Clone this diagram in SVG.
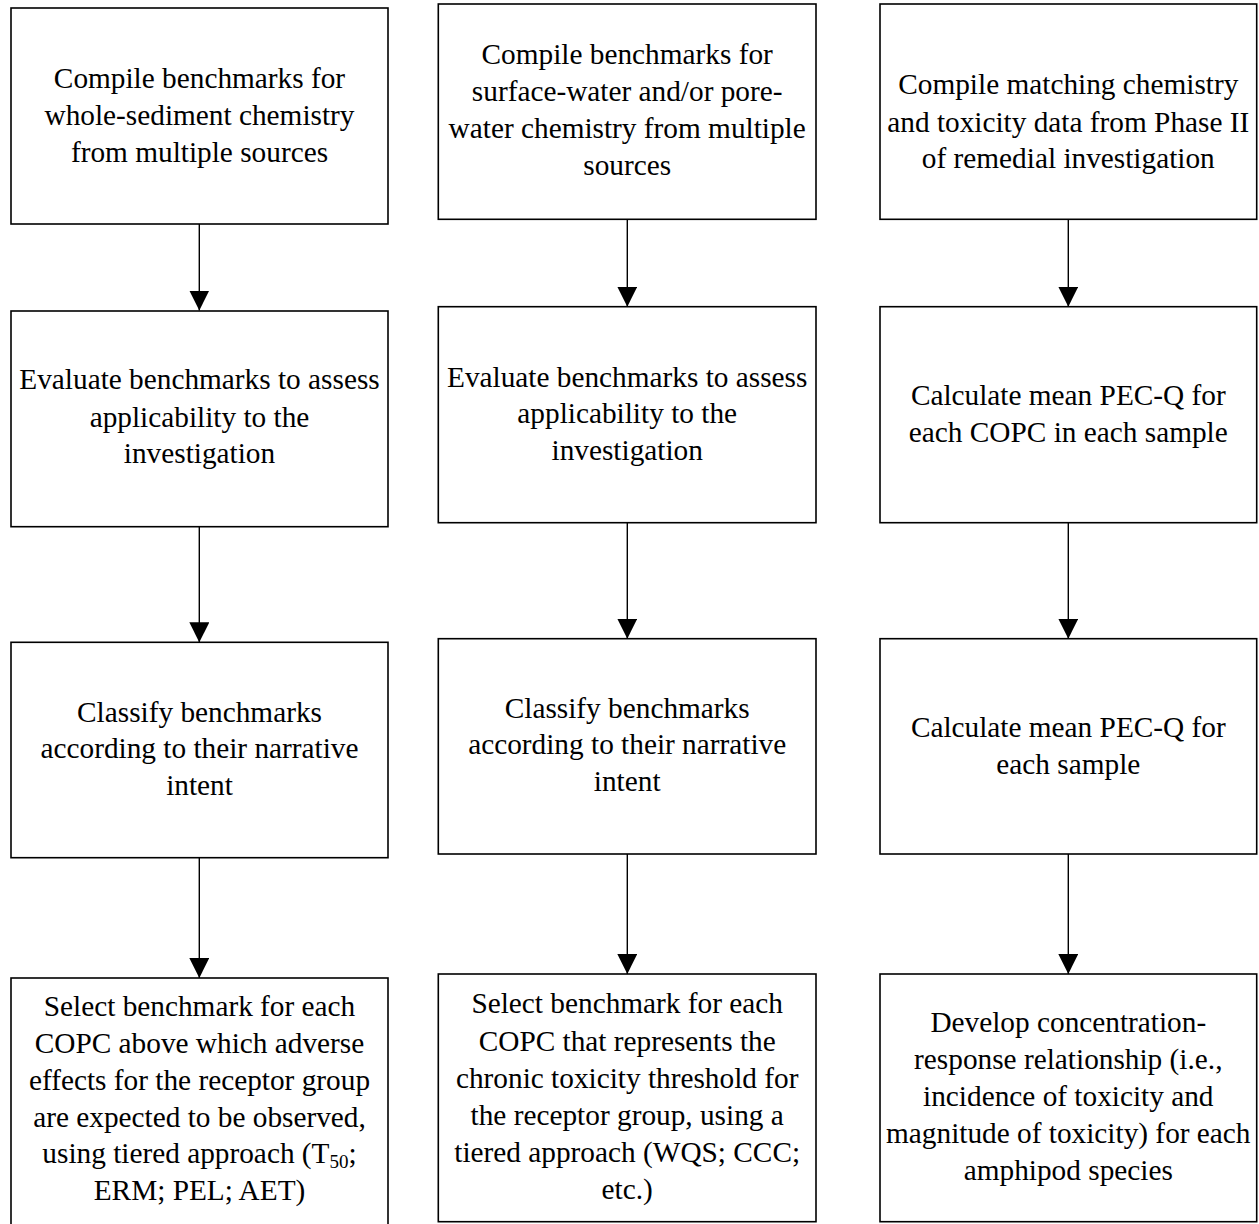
<svg xmlns="http://www.w3.org/2000/svg" width="1259" height="1224" viewBox="0 0 1259 1224">
<style>
.box{fill:#fff;stroke:#000;stroke-width:1.6}
.t{font-family:"Liberation Serif","Times New Roman",serif;font-size:29.3px;fill:#000;text-anchor:middle}
.c{stroke:#000;stroke-width:1.4;fill:none}
</style>
<defs>
<marker id="ah" viewBox="0 0 20 20" refX="20" refY="10" markerWidth="20" markerHeight="20" markerUnits="userSpaceOnUse" orient="auto">
<path d="M0,0 L20,10 L0,20 Z" fill="#000"/>
</marker>
</defs>
<rect width="1259" height="1224" fill="#fff"/>
<g id="connectors">
<line class="c" x1="199.3" y1="224" x2="199.3" y2="310.5" marker-end="url(#ah)"/>
<line class="c" x1="199.3" y1="526.7" x2="199.3" y2="642.3" marker-end="url(#ah)"/>
<line class="c" x1="199.3" y1="857.7" x2="199.3" y2="978" marker-end="url(#ah)"/>
<line class="c" x1="627.3" y1="219.3" x2="627.3" y2="306.7" marker-end="url(#ah)"/>
<line class="c" x1="627.3" y1="522.7" x2="627.3" y2="638.7" marker-end="url(#ah)"/>
<line class="c" x1="627.3" y1="854" x2="627.3" y2="974" marker-end="url(#ah)"/>
<line class="c" x1="1068.3" y1="219.3" x2="1068.3" y2="306.7" marker-end="url(#ah)"/>
<line class="c" x1="1068.3" y1="522.7" x2="1068.3" y2="638.7" marker-end="url(#ah)"/>
<line class="c" x1="1068.3" y1="854" x2="1068.3" y2="974" marker-end="url(#ah)"/>
</g>
<g id="n1a">
<rect class="box" x="11" y="8" width="377" height="216"/>
<text class="t" x="199.5" y="88.3">Compile benchmarks for</text>
<text class="t" x="199.5" y="125">whole-sediment chemistry</text>
<text class="t" x="199.5" y="161.7">from multiple sources</text>
</g>
<g id="n1b">
<rect class="box" x="11" y="311" width="377" height="215.7"/>
<text class="t" x="199.5" y="389.3">Evaluate benchmarks to assess</text>
<text class="t" x="199.5" y="426.7">applicability to the</text>
<text class="t" x="199.5" y="463.3">investigation</text>
</g>
<g id="n1c">
<rect class="box" x="11" y="642.3" width="377" height="215.4"/>
<text class="t" x="199.5" y="721.7">Classify benchmarks</text>
<text class="t" x="199.5" y="758.3">according to their narrative</text>
<text class="t" x="199.5" y="795">intent</text>
</g>
<g id="n1d">
<rect class="box" x="11" y="978" width="377" height="250"/>
<text class="t" x="199.5" y="1016">Select benchmark for each</text>
<text class="t" x="199.5" y="1053.3">COPC above which adverse</text>
<text class="t" x="199.5" y="1090">effects for the receptor group</text>
<text class="t" x="199.5" y="1126.7">are expected to be observed,</text>
<text class="t" x="199.5" y="1163.3">using tiered approach (T<tspan font-size="19" dy="5">50</tspan><tspan dy="-5">;</tspan></text>
<text class="t" x="199.5" y="1200">ERM; PEL; AET)</text>
</g>
<g id="n2a">
<rect class="box" x="438.3" y="4" width="377.7" height="215.3"/>
<text class="t" x="627.2" y="64">Compile benchmarks for</text>
<text class="t" x="627.2" y="100.7">surface-water and/or pore-</text>
<text class="t" x="627.2" y="137.7">water chemistry from multiple</text>
<text class="t" x="627.2" y="175">sources</text>
</g>
<g id="n2b">
<rect class="box" x="438.3" y="306.7" width="377.7" height="216"/>
<text class="t" x="627.2" y="386.7">Evaluate benchmarks to assess</text>
<text class="t" x="627.2" y="423.3">applicability to the</text>
<text class="t" x="627.2" y="460">investigation</text>
</g>
<g id="n2c">
<rect class="box" x="438.3" y="638.7" width="377.7" height="215.3"/>
<text class="t" x="627.2" y="717.7">Classify benchmarks</text>
<text class="t" x="627.2" y="754.3">according to their narrative</text>
<text class="t" x="627.2" y="791">intent</text>
</g>
<g id="n2d">
<rect class="box" x="438.3" y="974" width="377.7" height="247.7"/>
<text class="t" x="627.2" y="1013.3">Select benchmark for each</text>
<text class="t" x="627.2" y="1050.7">COPC that represents the</text>
<text class="t" x="627.2" y="1087.7">chronic toxicity threshold for</text>
<text class="t" x="627.2" y="1125">the receptor group, using a</text>
<text class="t" x="627.2" y="1161.7">tiered approach (WQS; CCC;</text>
<text class="t" x="627.2" y="1199">etc.)</text>
</g>
<g id="n3a">
<rect class="box" x="880" y="4" width="376.7" height="215.3"/>
<text class="t" x="1068.3" y="94.3">Compile matching chemistry</text>
<text class="t" x="1068.3" y="131.7">and toxicity data from Phase II</text>
<text class="t" x="1068.3" y="168.3">of remedial investigation</text>
</g>
<g id="n3b">
<rect class="box" x="880" y="306.7" width="376.7" height="216"/>
<text class="t" x="1068.3" y="405">Calculate mean PEC-Q for</text>
<text class="t" x="1068.3" y="442.3">each COPC in each sample</text>
</g>
<g id="n3c">
<rect class="box" x="880" y="638.7" width="376.7" height="215.3"/>
<text class="t" x="1068.3" y="737">Calculate mean PEC-Q for</text>
<text class="t" x="1068.3" y="774.3">each sample</text>
</g>
<g id="n3d">
<rect class="box" x="880" y="974" width="376.7" height="247.7"/>
<text class="t" x="1068.3" y="1031.7">Develop concentration-</text>
<text class="t" x="1068.3" y="1069.3">response relationship (i.e.,</text>
<text class="t" x="1068.3" y="1106">incidence of toxicity and</text>
<text class="t" x="1068.3" y="1143.3">magnitude of toxicity) for each</text>
<text class="t" x="1068.3" y="1180">amphipod species</text>
</g>
</svg>
